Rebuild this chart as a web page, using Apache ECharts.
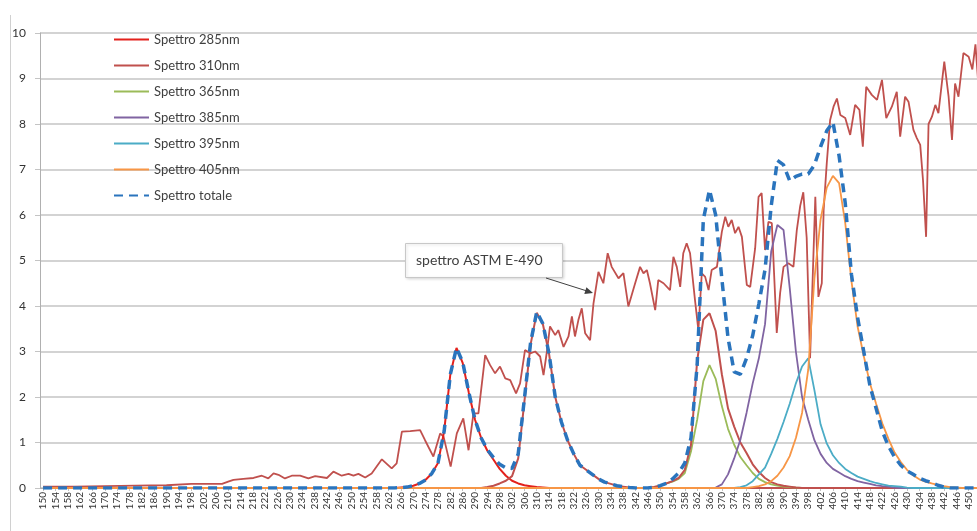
<!DOCTYPE html>
<html><head><meta charset="utf-8">
<script src="https://cdn.jsdelivr.net/npm/echarts@6/dist/echarts.min.js"></script>
<style>html,body{margin:0;padding:0;background:#fff}#c{width:977px;height:531px}</style>
</head><body><div id="c"></div><script>
// x-axis tick labels (nm)
const xTicks = [150,154,158,162,166,170,174,178,182,186,190,194,198,202,206,210,214,218,222,226,230,234,238,242,246,250,254,258,262,266,270,274,278,282,286,290,294,298,302,306,310,314,318,322,326,330,334,338,342,346,350,354,358,362,366,370,374,378,382,386,390,394,398,402,406,410,414,418,422,426,430,434,438,442,446,450,454];

// ASTM E-490 reference spectrum
const astmNm = [150,160,170,180,190,198,208,210,211.7,214.9,218.2,220.9,223,224.7,226.3,228.4,230.6,233.3,236,238.2,242,244.1,246.8,249,250.6,252.2,254.4,256.5,259.8,263,264.6,266.3,269,272.2,273.8,276.5,278.7,279.8,282.1,284.1,286.2,287.9,289.5,291.1,293.3,294.9,296.5,298.1,299.8,301.4,303.3,304.6,306.2,307.9,309.5,311.1,312.2,313.3,314.3,316,317,318.7,320.3,321.4,322.4,323.5,324.6,325.7,327.3,328.4,330,331.6,333,334.3,336.5,338.1,339.7,341.9,343.5,344.6,345.7,346.7,348.4,349.4,351.1,353.2,354.3,355.4,356.5,357.5,358.6,359.7,361.3,362.4,363.5,364.6,365.7,366.7,368.4,370,371.1,372.1,373.2,374.3,375.4,376.5,378.1,379.2,380.8,381.9,382.9,384,385.1,386.2,387.8,388.9,390,391.6,393.2,394.3,395.4,396.4,397.5,398.6,400.3,401.3,402.4,403,404,405.1,406.2,407.3,408.4,410,411.6,413.2,414.6,415.7,416.8,418.6,420.3,421.9,423.3,425.1,426.7,427.8,429.4,430.5,432.1,433.2,434.3,435.2,436.2,437,438.1,439.2,440.2,442.1,443.5,444.6,445.6,446.7,448.3,450,451.2,452.2,453];
const astmVal = [0.03,0.03,0.04,0.05,0.06,0.09,0.09,0.14,0.18,0.2,0.22,0.27,0.21,0.32,0.29,0.21,0.27,0.27,0.21,0.26,0.22,0.36,0.27,0.31,0.27,0.31,0.23,0.32,0.63,0.43,0.54,1.24,1.25,1.27,1.05,0.69,1.2,1.13,0.47,1.2,1.53,0.83,1.64,1.64,2.92,2.7,2.52,2.67,2.41,2.37,2.08,2.3,3.03,2.96,3.0,2.89,2.48,3.0,3.55,3.36,3.47,3.1,3.33,3.77,3.33,3.69,3.95,3.4,3.25,4.06,4.75,4.5,5.16,4.86,4.61,4.72,3.99,4.5,4.86,4.72,4.79,4.5,3.91,4.57,4.5,4.35,5.08,4.86,4.42,5.16,5.38,5.16,4.13,3.47,4.72,4.64,4.35,4.79,4.86,5.63,5.96,5.74,5.89,5.6,5.74,5.52,4.46,4.42,5.27,6.4,6.48,5.23,5.85,5.82,3.41,4.29,4.86,4.94,4.86,5.67,6.2,6.5,5.5,2.85,6.4,4.2,4.5,6.11,7.13,8.09,8.38,8.56,8.2,8.13,7.76,8.42,8.31,7.5,8.82,8.64,8.53,8.97,8.13,8.38,8.71,7.72,8.6,8.49,7.87,7.69,7.54,6.77,5.52,8.0,8.16,8.42,8.24,9.37,8.6,7.65,8.89,8.6,9.56,9.48,9.2,9.75,9.0];

// lamp spectra
const nm285 = [150,264,266,268,270,272,274,276,278,280,282,284,286,288,290,292,294,296,298,300,302,304,306,308,310,312,314,454];
const val285 = [0,0,0.01,0.02,0.05,0.1,0.18,0.32,0.55,1.25,2.5,3.08,2.75,2.09,1.5,1.1,0.82,0.62,0.42,0.27,0.16,0.1,0.06,0.04,0.02,0.01,0,0];

const nm310 = [150,292,294,296,298,300,302,304,306,308,310,312,314,316,318,320,322,324,326,328,330,332,334,336,338,340,342,454];
const val310 = [0,0,0.02,0.05,0.1,0.16,0.26,0.65,1.9,3.15,3.85,3.6,2.95,2.0,1.45,1.05,0.75,0.5,0.4,0.3,0.2,0.13,0.09,0.05,0.03,0.01,0,0];

const nm365 = [150,346,348,350,352,354,356,358,360,362,364,366,368,370,372,374,376,378,380,382,384,386,388,390,392,394,396,454];
const val365 = [0,0,0.02,0.05,0.1,0.14,0.2,0.33,0.8,1.5,2.35,2.7,2.4,1.8,1.3,0.95,0.68,0.5,0.33,0.2,0.13,0.08,0.05,0.03,0.02,0.01,0,0];

const nm365b = [150,346,348,350,352,354,356,358,360,362,364,366,368,370,372,374,376,378,380,382,384,386,388,390,392,394,396,454];
const val365b = [0,0,0.02,0.05,0.1,0.15,0.22,0.4,0.95,2.8,3.7,3.84,3.45,2.5,1.75,1.35,1.0,0.77,0.52,0.35,0.22,0.13,0.08,0.05,0.03,0.01,0,0];

const nm385 = [150,366,368,370,372,374,376,378,380,382,384,386,388,390,392,394,396,398,400,402,404,406,408,410,412,414,416,418,420,422,424,426,428,454];
const val385 = [0,0,0.01,0.08,0.3,0.65,1.06,1.65,2.3,2.85,3.6,5.2,5.78,5.67,4.4,3.0,2.0,1.5,1.05,0.75,0.55,0.42,0.34,0.26,0.2,0.15,0.12,0.09,0.06,0.04,0.03,0.01,0,0];

const nm395 = [150,374,376,378,380,382,384,386,388,390,392,394,396,398,400,402,404,406,408,410,412,414,416,418,420,422,424,426,428,430,432,454];
const val395 = [0,0,0.02,0.06,0.15,0.3,0.45,0.75,1.08,1.45,1.85,2.3,2.67,2.85,2.15,1.4,0.98,0.72,0.55,0.42,0.33,0.25,0.2,0.15,0.11,0.08,0.05,0.04,0.03,0.01,0,0];

const nm405 = [150,378,380,382,384,386,388,390,392,394,396,398,400,402,404,406,408,410,412,414,416,418,420,422,424,426,428,430,432,434,436,438,440,442,444,446,448,454];
const val405 = [0,0,0.02,0.04,0.08,0.15,0.27,0.45,0.7,1.1,1.65,2.6,4.6,5.9,6.6,6.86,6.7,5.82,4.55,3.55,2.9,2.3,1.85,1.42,1.08,0.78,0.57,0.4,0.28,0.19,0.14,0.1,0.07,0.04,0.02,0.01,0,0];

const nmTot = [150,264,266,268,270,272,274,276,278,280,282,284,286,288,290,292,294,296,298,300,302,304,306,308,310,312,314,316,318,320,322,324,326,328,330,332,334,336,338,340,342,346,348,350,352,354,356,358,360,362,364,366,368,370,372,374,376,378,380,382,384,386,388,390,392,394,396,398,400,402,404,406,408,410,412,414,416,418,420,422,424,426,428,430,432,434,436,438,440,442,444,454];
const valTot = [0,0,0.01,0.02,0.05,0.1,0.18,0.32,0.55,1.25,2.5,3.08,2.77,2.1,1.5,1.1,0.84,0.67,0.52,0.44,0.43,0.75,1.96,3.19,3.87,3.61,2.95,2.0,1.45,1.05,0.75,0.5,0.4,0.3,0.2,0.13,0.09,0.05,0.03,0.01,0,0,0.02,0.05,0.1,0.2,0.33,0.55,1.1,2.7,5.9,6.55,6.0,4.6,3.3,2.55,2.5,2.85,3.35,4.05,4.8,6.2,7.2,7.1,6.75,6.85,6.9,6.9,7.1,7.5,7.85,8.04,7.3,6.26,4.7,3.75,3.0,2.25,1.75,1.25,0.92,0.68,0.5,0.38,0.3,0.22,0.16,0.12,0.06,0.02,0,0];

const legendNames = ['Spettro 285nm','Spettro 310nm','Spettro 365nm','Spettro 385nm','Spettro 395nm','Spettro 405nm','Spettro totale'];

function pairs(xs, ys) { return xs.map((x, i) => [x, ys[i]]); }
function line(name, xs, ys, color, width, extra) {
  return Object.assign({
    name: name, type: 'line', data: pairs(xs, ys), symbol: 'none', showSymbol: false,
    lineStyle: { color: color, width: width }, itemStyle: { color: color },
    emphasis: { disabled: true }, clip: true
  }, extra || {});
}

const FONT = 'Lato';
const chart = echarts.init(document.getElementById('c'), null, { renderer: 'canvas' });
chart.setOption({
  animation: false,
  backgroundColor: '#ffffff',
  textStyle: { fontFamily: FONT },
  grid: { left: 40, top: 33, width: 941, height: 455, containLabel: false, outerBoundsMode: 'none' },
  legend: {
    data: legendNames, orient: 'vertical', left: 108, top: 28,
    itemWidth: 35, itemHeight: 12, itemGap: 13,
    itemStyle: { opacity: 0 },
    textStyle: { fontFamily: FONT, fontSize: 13, color: '#404040' }
  },
  xAxis: {
    type: 'value', min: 149, max: 454,
    axisLine: { show: true, lineStyle: { color: '#b0b0b0', width: 1 } },
    axisTick: { show: true, customValues: xTicks, length: 3, lineStyle: { color: '#c0c0c0' } },
    axisLabel: { customValues: xTicks, rotate: 90, fontSize: 10, color: '#333', margin: 4, fontFamily: FONT },
    splitLine: { show: false }
  },
  yAxis: {
    type: 'value', min: 0, max: 10, interval: 1,
    axisLine: { show: true, lineStyle: { color: '#b0b0b0', width: 1 } },
    axisTick: { show: true, length: 5, lineStyle: { color: '#c4c4c4' } },
    axisLabel: { fontSize: 12, color: '#333', margin: 14, fontFamily: FONT },
    splitLine: { show: true, lineStyle: { color: '#c4c4c4', width: 1.5 } }
  },
  series: [
    line('spettro ASTM E-490', astmNm, astmVal, '#c0504d', 1.8),
    line('Spettro 285nm', nm285, val285, '#e3211c', 2),
    line('Spettro 310nm', nm310, val310, '#c0504d', 2),
    line('Spettro 365nm', nm365, val365, '#9bbb59', 1.8),
    line('Spettro 365nm (b)', nm365b, val365b, '#c0504d', 2),
    line('Spettro 385nm', nm385, val385, '#8064a2', 1.8),
    line('Spettro 395nm', nm395, val395, '#4bacc6', 1.8),
    line('Spettro 405nm', nm405, val405, '#f79646', 1.8),
    line('Spettro totale', nmTot, valTot, '#2a74bd', 3.5, { lineStyle: { color: '#2a74bd', width: 3.5, type: [9, 6] } })
  ],
  graphic: [
    { type: 'line', shape: { x1: 10.5, y1: 15, x2: 10.5, y2: 531 }, style: { stroke: '#d0d0d0', lineWidth: 1 }, silent: true },
    { type: 'rect', shape: { x: 405.5, y: 243.5, width: 157, height: 34 }, style: { fill: '#ffffff', stroke: '#c8c8c8', lineWidth: 1, shadowColor: 'rgba(0,0,0,0.15)', shadowBlur: 3, shadowOffsetX: 1, shadowOffsetY: 1 }, z: 100 },
    { type: 'text', x: 416, y: 260, style: { text: 'spettro ASTM E-490', fontFamily: FONT, fontSize: 14, fill: '#404040', verticalAlign: 'middle' }, z: 101 },
    { type: 'line', shape: { x1: 546, y1: 278, x2: 587, y2: 291 }, style: { stroke: '#404040', lineWidth: 1 }, z: 101 },
    { type: 'polygon', shape: { points: [[593, 293], [584.3, 293.9], [586.4, 287.2]] }, style: { fill: '#404040' }, z: 101 }
  ]
});
</script></body></html>
